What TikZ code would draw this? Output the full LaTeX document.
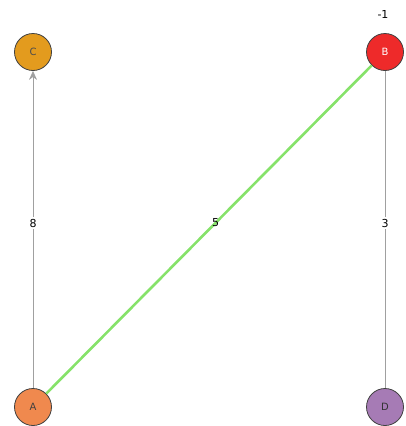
\documentclass[tikz,border=0pt]{standalone}
\usepackage{fontspec}
\setmainfont{DejaVu Sans}
\usetikzlibrary{arrows.meta}
\definecolor{cC}{HTML}{E39B1E}
\definecolor{cB}{HTML}{EE2A2A}
\definecolor{cA}{HTML}{F0894E}
\definecolor{cD}{HTML}{A67BB5}
\definecolor{edgegray}{HTML}{A0A0A0}
\definecolor{edgegreen}{HTML}{86E26A}
\tikzset{
  vert/.style={circle,draw=black!75,line width=0.8pt,minimum size=37pt,inner sep=0pt,font=\fontsize{10}{11}\selectfont},
  edg/.style={draw=edgegray,line width=0.8pt},
  elab/.style={fill=white,inner sep=1.5pt,font=\fontsize{11}{12}\selectfont}
}
\begin{document}
\begin{tikzpicture}[x=1pt,y=-1pt]
\useasboundingbox (0,0) rectangle (405,426);
\node[vert,fill=cC,text=black!70] (C) at (33,52) {C};
\node[vert,fill=cB,text=white] (B) at (385,52) {B};
\node[vert,fill=cA,text=black!75] (A) at (33,407) {A};
\node[vert,fill=cD,text=black!80] (D) at (385,407) {D};
\node[font=\fontsize{11}{12}\selectfont] (lb) at (383,14) {-1};
\draw[edg,-{Stealth[length=9pt,width=8pt,fill=edgegray]}] (A) -- node[elab,pos=0.52] {8} (C);
\draw[edg] (B) -- node[elab,pos=0.48] {3} (D);
\draw[draw=edgegreen,line width=2.6pt] (A) -- node[elab,pos=0.52,fill=none] {5} (B);
\end{tikzpicture}
\end{document}
